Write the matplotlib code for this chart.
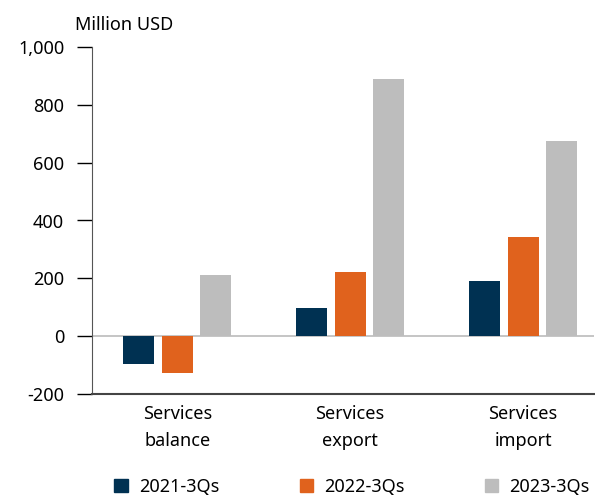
import numpy as np
import matplotlib.pyplot as plt
from matplotlib.patches import Patch

plt.rcParams['font.family'] = ['Noto Sans', 'DejaVu Sans']

categories = ['Services\nbalance', 'Services\nexport', 'Services\nimport']
series = ['2021-3Qs', '2022-3Qs', '2023-3Qs']
v2021 = [-97, 97, 190]
v2022 = [-128, 221, 344]
v2023 = [211, 889, 675]
colours = ['#003152', '#E0621D', '#BDBDBD']
yticks = [-200, 0, 200, 400, 600, 800, 1000]

fs = 13
fig = plt.figure(figsize=(5.95, 4.98), dpi=100)
ax = fig.add_axes([92/595, 1-394/498, (594-92)/595, (394-47)/498])

x = np.arange(len(categories))
w = 0.18
step = 0.222
for i, vals in enumerate([v2021, v2022, v2023]):
    ax.bar(x + (i-1)*step, vals, width=w, color=colours[i], zorder=2)

ax.axhline(0, color='#BBBBBB', lw=1.2, zorder=1)
ax.set_xlim(-0.493, 2.41)
ax.set_ylim(-200, 1000)
ax.set_yticks(yticks)
ax.set_yticklabels([f'{t:,}' for t in yticks], fontsize=fs)
ax.set_xticks(x)
ax.set_xticklabels(categories, fontsize=fs, linespacing=1.6)
ax.tick_params(axis='x', length=0, pad=8)
ax.tick_params(axis='y', length=11, width=1, color='black', pad=9)
for s in ['top', 'right']:
    ax.spines[s].set_visible(False)
ax.spines['left'].set_color('#555555')
ax.spines['bottom'].set_color('#444444')
ax.spines['bottom'].set_linewidth(1.5)

fig.text(75/595, 1-25/498, 'Million USD', fontsize=fs, va='center', ha='left')

handles = [Patch(color=c) for c in colours]
fig.legend(handles, series, loc='center', bbox_to_anchor=(352/595, 1-487/498),
           ncol=3, frameon=False, fontsize=fs, handlelength=0.75, handleheight=0.75,
           handletextpad=0.6, columnspacing=4.45)

fig.savefig('out.png', dpi=100)
